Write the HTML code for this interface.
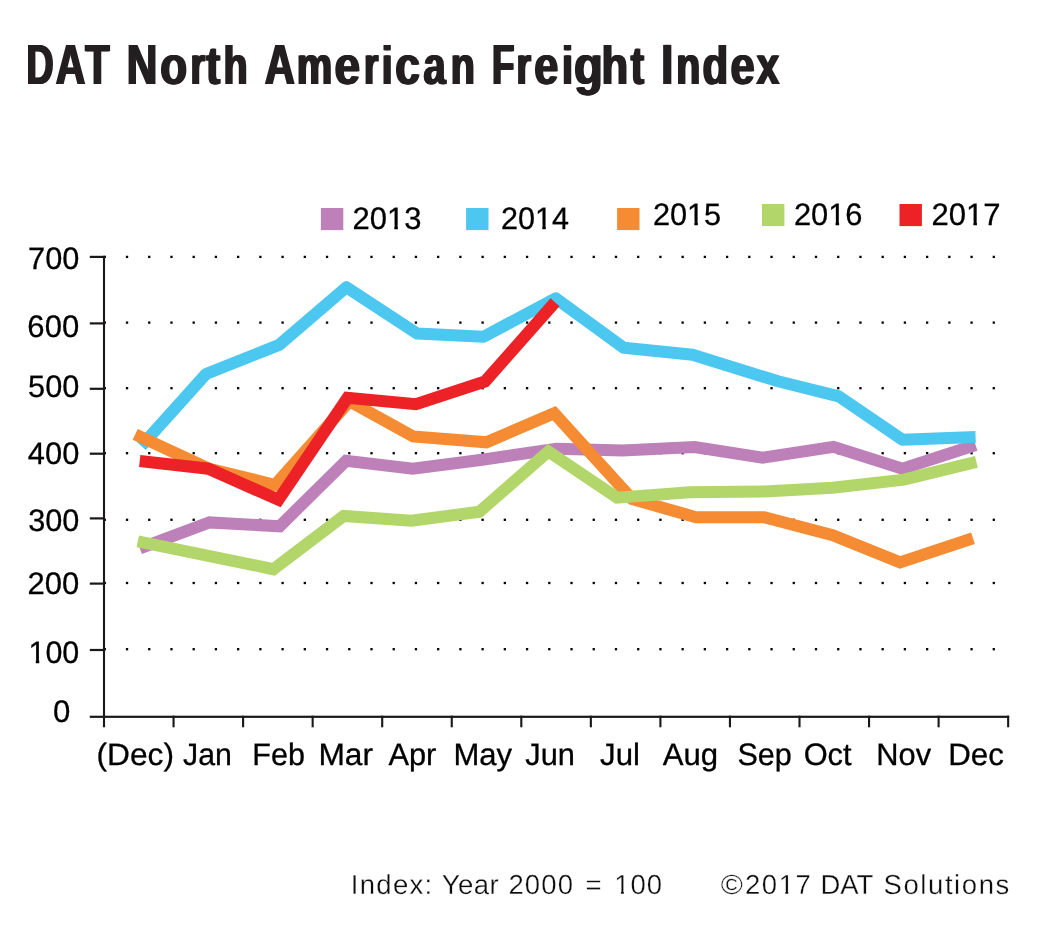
<!DOCTYPE html>
<html><head><meta charset="utf-8"><title>DAT North American Freight Index</title>
<style>
html,body{margin:0;padding:0;background:#fff;}
body{width:1052px;height:950px;overflow:hidden;font-family:"Liberation Sans",sans-serif;}
svg{display:block;position:absolute;left:0;top:0;will-change:transform;}
text{font-family:"Liberation Sans",sans-serif;text-rendering:geometricPrecision;}
.ax{font-size:31px;fill:#000;stroke:#000;stroke-width:0.3px;}
.axd{font-size:31px;fill:#000;stroke:#000;stroke-width:0.3px;}
.ft{font-size:27.5px;fill:#0d0d0d;}
.ttl{font-size:56.8px;font-weight:bold;fill:#231f20;}
.ttll{font-size:54px;font-weight:bold;fill:#231f20;}
</style></head><body>
<svg width="1052" height="950" viewBox="0 0 1052 950">
<rect width="1052" height="950" fill="#fff"/>
<defs><filter id="bold" x="-2%" y="-30%" width="104%" height="160%" color-interpolation-filters="sRGB"><feOffset in="SourceGraphic" dx="-0.95" result="a"/><feOffset in="SourceGraphic" dx="0.95" result="b"/><feMerge><feMergeNode in="a"/><feMergeNode in="SourceGraphic"/><feMergeNode in="b"/></feMerge></filter></defs>
<text class="ttl" y="83.80" filter="url(#bold)"><tspan x="26.60" textLength="27.07" lengthAdjust="spacingAndGlyphs">D</tspan><tspan x="55.75" textLength="29.57" lengthAdjust="spacingAndGlyphs">A</tspan><tspan x="85.36" textLength="24.30" lengthAdjust="spacingAndGlyphs">T</tspan> <tspan x="126.85" textLength="30.59" lengthAdjust="spacingAndGlyphs">N</tspan><tspan class="ttll" x="160.13" textLength="26.87" lengthAdjust="spacingAndGlyphs">o</tspan><tspan class="ttll" x="190.45" textLength="14.54" lengthAdjust="spacingAndGlyphs">r</tspan><tspan class="ttll" x="205.92" textLength="14.20" lengthAdjust="spacingAndGlyphs">t</tspan><tspan class="ttll" x="223.49" textLength="24.16" lengthAdjust="spacingAndGlyphs">h</tspan> <tspan x="264.73" textLength="30.11" lengthAdjust="spacingAndGlyphs">A</tspan><tspan class="ttll" x="296.85" textLength="35.53" lengthAdjust="spacingAndGlyphs">m</tspan><tspan class="ttll" x="334.62" textLength="25.58" lengthAdjust="spacingAndGlyphs">e</tspan><tspan class="ttll" x="364.04" textLength="14.39" lengthAdjust="spacingAndGlyphs">r</tspan><tspan class="ttll" x="381.65" textLength="10.85" lengthAdjust="spacingAndGlyphs">i</tspan><tspan class="ttll" x="395.35" textLength="24.65" lengthAdjust="spacingAndGlyphs">c</tspan><tspan class="ttll" x="423.50" textLength="22.14" lengthAdjust="spacingAndGlyphs">a</tspan><tspan class="ttll" x="450.72" textLength="24.15" lengthAdjust="spacingAndGlyphs">n</tspan> <tspan x="492.07" textLength="22.42" lengthAdjust="spacingAndGlyphs">F</tspan><tspan class="ttll" x="516.39" textLength="14.51" lengthAdjust="spacingAndGlyphs">r</tspan><tspan class="ttll" x="534.25" textLength="24.06" lengthAdjust="spacingAndGlyphs">e</tspan><tspan class="ttll" x="561.96" textLength="11.05" lengthAdjust="spacingAndGlyphs">i</tspan><tspan class="ttll" x="574.09" textLength="28.84" lengthAdjust="spacingAndGlyphs">g</tspan><tspan class="ttll" x="601.38" textLength="26.69" lengthAdjust="spacingAndGlyphs">h</tspan><tspan class="ttll" x="630.64" textLength="13.32" lengthAdjust="spacingAndGlyphs">t</tspan> <tspan x="661.18" textLength="11.99" lengthAdjust="spacingAndGlyphs">I</tspan><tspan class="ttll" x="676.22" textLength="24.10" lengthAdjust="spacingAndGlyphs">n</tspan><tspan class="ttll" x="702.58" textLength="25.64" lengthAdjust="spacingAndGlyphs">d</tspan><tspan class="ttll" x="730.54" textLength="24.13" lengthAdjust="spacingAndGlyphs">e</tspan><tspan class="ttll" x="756.43" textLength="22.87" lengthAdjust="spacingAndGlyphs">x</tspan></text>
<g fill="#000"><rect x="103.65" y="648.05" width="2.3" height="2.3"/><rect x="125.88" y="648.05" width="2.3" height="2.3"/><rect x="148.10" y="648.05" width="2.3" height="2.3"/><rect x="170.33" y="648.05" width="2.3" height="2.3"/><rect x="192.55" y="648.05" width="2.3" height="2.3"/><rect x="214.78" y="648.05" width="2.3" height="2.3"/><rect x="237.00" y="648.05" width="2.3" height="2.3"/><rect x="259.23" y="648.05" width="2.3" height="2.3"/><rect x="281.45" y="648.05" width="2.3" height="2.3"/><rect x="303.68" y="648.05" width="2.3" height="2.3"/><rect x="325.90" y="648.05" width="2.3" height="2.3"/><rect x="348.13" y="648.05" width="2.3" height="2.3"/><rect x="370.35" y="648.05" width="2.3" height="2.3"/><rect x="392.58" y="648.05" width="2.3" height="2.3"/><rect x="414.80" y="648.05" width="2.3" height="2.3"/><rect x="437.03" y="648.05" width="2.3" height="2.3"/><rect x="459.25" y="648.05" width="2.3" height="2.3"/><rect x="481.48" y="648.05" width="2.3" height="2.3"/><rect x="503.70" y="648.05" width="2.3" height="2.3"/><rect x="525.93" y="648.05" width="2.3" height="2.3"/><rect x="548.15" y="648.05" width="2.3" height="2.3"/><rect x="570.38" y="648.05" width="2.3" height="2.3"/><rect x="592.60" y="648.05" width="2.3" height="2.3"/><rect x="614.83" y="648.05" width="2.3" height="2.3"/><rect x="637.05" y="648.05" width="2.3" height="2.3"/><rect x="659.27" y="648.05" width="2.3" height="2.3"/><rect x="681.50" y="648.05" width="2.3" height="2.3"/><rect x="703.73" y="648.05" width="2.3" height="2.3"/><rect x="725.95" y="648.05" width="2.3" height="2.3"/><rect x="748.18" y="648.05" width="2.3" height="2.3"/><rect x="770.40" y="648.05" width="2.3" height="2.3"/><rect x="792.62" y="648.05" width="2.3" height="2.3"/><rect x="814.85" y="648.05" width="2.3" height="2.3"/><rect x="837.08" y="648.05" width="2.3" height="2.3"/><rect x="859.30" y="648.05" width="2.3" height="2.3"/><rect x="881.52" y="648.05" width="2.3" height="2.3"/><rect x="903.75" y="648.05" width="2.3" height="2.3"/><rect x="925.98" y="648.05" width="2.3" height="2.3"/><rect x="948.20" y="648.05" width="2.3" height="2.3"/><rect x="970.43" y="648.05" width="2.3" height="2.3"/><rect x="992.65" y="648.05" width="2.3" height="2.3"/><rect x="103.65" y="581.85" width="2.3" height="2.3"/><rect x="125.88" y="581.85" width="2.3" height="2.3"/><rect x="148.10" y="581.85" width="2.3" height="2.3"/><rect x="170.33" y="581.85" width="2.3" height="2.3"/><rect x="192.55" y="581.85" width="2.3" height="2.3"/><rect x="214.78" y="581.85" width="2.3" height="2.3"/><rect x="237.00" y="581.85" width="2.3" height="2.3"/><rect x="259.23" y="581.85" width="2.3" height="2.3"/><rect x="281.45" y="581.85" width="2.3" height="2.3"/><rect x="303.68" y="581.85" width="2.3" height="2.3"/><rect x="325.90" y="581.85" width="2.3" height="2.3"/><rect x="348.13" y="581.85" width="2.3" height="2.3"/><rect x="370.35" y="581.85" width="2.3" height="2.3"/><rect x="392.58" y="581.85" width="2.3" height="2.3"/><rect x="414.80" y="581.85" width="2.3" height="2.3"/><rect x="437.03" y="581.85" width="2.3" height="2.3"/><rect x="459.25" y="581.85" width="2.3" height="2.3"/><rect x="481.48" y="581.85" width="2.3" height="2.3"/><rect x="503.70" y="581.85" width="2.3" height="2.3"/><rect x="525.93" y="581.85" width="2.3" height="2.3"/><rect x="548.15" y="581.85" width="2.3" height="2.3"/><rect x="570.38" y="581.85" width="2.3" height="2.3"/><rect x="592.60" y="581.85" width="2.3" height="2.3"/><rect x="614.83" y="581.85" width="2.3" height="2.3"/><rect x="637.05" y="581.85" width="2.3" height="2.3"/><rect x="659.27" y="581.85" width="2.3" height="2.3"/><rect x="681.50" y="581.85" width="2.3" height="2.3"/><rect x="703.73" y="581.85" width="2.3" height="2.3"/><rect x="725.95" y="581.85" width="2.3" height="2.3"/><rect x="748.18" y="581.85" width="2.3" height="2.3"/><rect x="770.40" y="581.85" width="2.3" height="2.3"/><rect x="792.62" y="581.85" width="2.3" height="2.3"/><rect x="814.85" y="581.85" width="2.3" height="2.3"/><rect x="837.08" y="581.85" width="2.3" height="2.3"/><rect x="859.30" y="581.85" width="2.3" height="2.3"/><rect x="881.52" y="581.85" width="2.3" height="2.3"/><rect x="903.75" y="581.85" width="2.3" height="2.3"/><rect x="925.98" y="581.85" width="2.3" height="2.3"/><rect x="948.20" y="581.85" width="2.3" height="2.3"/><rect x="970.43" y="581.85" width="2.3" height="2.3"/><rect x="992.65" y="581.85" width="2.3" height="2.3"/><rect x="103.65" y="518.65" width="2.3" height="2.3"/><rect x="125.88" y="518.65" width="2.3" height="2.3"/><rect x="148.10" y="518.65" width="2.3" height="2.3"/><rect x="170.33" y="518.65" width="2.3" height="2.3"/><rect x="192.55" y="518.65" width="2.3" height="2.3"/><rect x="214.78" y="518.65" width="2.3" height="2.3"/><rect x="237.00" y="518.65" width="2.3" height="2.3"/><rect x="259.23" y="518.65" width="2.3" height="2.3"/><rect x="281.45" y="518.65" width="2.3" height="2.3"/><rect x="303.68" y="518.65" width="2.3" height="2.3"/><rect x="325.90" y="518.65" width="2.3" height="2.3"/><rect x="348.13" y="518.65" width="2.3" height="2.3"/><rect x="370.35" y="518.65" width="2.3" height="2.3"/><rect x="392.58" y="518.65" width="2.3" height="2.3"/><rect x="414.80" y="518.65" width="2.3" height="2.3"/><rect x="437.03" y="518.65" width="2.3" height="2.3"/><rect x="459.25" y="518.65" width="2.3" height="2.3"/><rect x="481.48" y="518.65" width="2.3" height="2.3"/><rect x="503.70" y="518.65" width="2.3" height="2.3"/><rect x="525.93" y="518.65" width="2.3" height="2.3"/><rect x="548.15" y="518.65" width="2.3" height="2.3"/><rect x="570.38" y="518.65" width="2.3" height="2.3"/><rect x="592.60" y="518.65" width="2.3" height="2.3"/><rect x="614.83" y="518.65" width="2.3" height="2.3"/><rect x="637.05" y="518.65" width="2.3" height="2.3"/><rect x="659.27" y="518.65" width="2.3" height="2.3"/><rect x="681.50" y="518.65" width="2.3" height="2.3"/><rect x="703.73" y="518.65" width="2.3" height="2.3"/><rect x="725.95" y="518.65" width="2.3" height="2.3"/><rect x="748.18" y="518.65" width="2.3" height="2.3"/><rect x="770.40" y="518.65" width="2.3" height="2.3"/><rect x="792.62" y="518.65" width="2.3" height="2.3"/><rect x="814.85" y="518.65" width="2.3" height="2.3"/><rect x="837.08" y="518.65" width="2.3" height="2.3"/><rect x="859.30" y="518.65" width="2.3" height="2.3"/><rect x="881.52" y="518.65" width="2.3" height="2.3"/><rect x="903.75" y="518.65" width="2.3" height="2.3"/><rect x="925.98" y="518.65" width="2.3" height="2.3"/><rect x="948.20" y="518.65" width="2.3" height="2.3"/><rect x="970.43" y="518.65" width="2.3" height="2.3"/><rect x="992.65" y="518.65" width="2.3" height="2.3"/><rect x="103.65" y="452.05" width="2.3" height="2.3"/><rect x="125.88" y="452.05" width="2.3" height="2.3"/><rect x="148.10" y="452.05" width="2.3" height="2.3"/><rect x="170.33" y="452.05" width="2.3" height="2.3"/><rect x="192.55" y="452.05" width="2.3" height="2.3"/><rect x="214.78" y="452.05" width="2.3" height="2.3"/><rect x="237.00" y="452.05" width="2.3" height="2.3"/><rect x="259.23" y="452.05" width="2.3" height="2.3"/><rect x="281.45" y="452.05" width="2.3" height="2.3"/><rect x="303.68" y="452.05" width="2.3" height="2.3"/><rect x="325.90" y="452.05" width="2.3" height="2.3"/><rect x="348.13" y="452.05" width="2.3" height="2.3"/><rect x="370.35" y="452.05" width="2.3" height="2.3"/><rect x="392.58" y="452.05" width="2.3" height="2.3"/><rect x="414.80" y="452.05" width="2.3" height="2.3"/><rect x="437.03" y="452.05" width="2.3" height="2.3"/><rect x="459.25" y="452.05" width="2.3" height="2.3"/><rect x="481.48" y="452.05" width="2.3" height="2.3"/><rect x="503.70" y="452.05" width="2.3" height="2.3"/><rect x="525.93" y="452.05" width="2.3" height="2.3"/><rect x="548.15" y="452.05" width="2.3" height="2.3"/><rect x="570.38" y="452.05" width="2.3" height="2.3"/><rect x="592.60" y="452.05" width="2.3" height="2.3"/><rect x="614.83" y="452.05" width="2.3" height="2.3"/><rect x="637.05" y="452.05" width="2.3" height="2.3"/><rect x="659.27" y="452.05" width="2.3" height="2.3"/><rect x="681.50" y="452.05" width="2.3" height="2.3"/><rect x="703.73" y="452.05" width="2.3" height="2.3"/><rect x="725.95" y="452.05" width="2.3" height="2.3"/><rect x="748.18" y="452.05" width="2.3" height="2.3"/><rect x="770.40" y="452.05" width="2.3" height="2.3"/><rect x="792.62" y="452.05" width="2.3" height="2.3"/><rect x="814.85" y="452.05" width="2.3" height="2.3"/><rect x="837.08" y="452.05" width="2.3" height="2.3"/><rect x="859.30" y="452.05" width="2.3" height="2.3"/><rect x="881.52" y="452.05" width="2.3" height="2.3"/><rect x="903.75" y="452.05" width="2.3" height="2.3"/><rect x="925.98" y="452.05" width="2.3" height="2.3"/><rect x="948.20" y="452.05" width="2.3" height="2.3"/><rect x="970.43" y="452.05" width="2.3" height="2.3"/><rect x="992.65" y="452.05" width="2.3" height="2.3"/><rect x="103.65" y="387.05" width="2.3" height="2.3"/><rect x="125.88" y="387.05" width="2.3" height="2.3"/><rect x="148.10" y="387.05" width="2.3" height="2.3"/><rect x="170.33" y="387.05" width="2.3" height="2.3"/><rect x="192.55" y="387.05" width="2.3" height="2.3"/><rect x="214.78" y="387.05" width="2.3" height="2.3"/><rect x="237.00" y="387.05" width="2.3" height="2.3"/><rect x="259.23" y="387.05" width="2.3" height="2.3"/><rect x="281.45" y="387.05" width="2.3" height="2.3"/><rect x="303.68" y="387.05" width="2.3" height="2.3"/><rect x="325.90" y="387.05" width="2.3" height="2.3"/><rect x="348.13" y="387.05" width="2.3" height="2.3"/><rect x="370.35" y="387.05" width="2.3" height="2.3"/><rect x="392.58" y="387.05" width="2.3" height="2.3"/><rect x="414.80" y="387.05" width="2.3" height="2.3"/><rect x="437.03" y="387.05" width="2.3" height="2.3"/><rect x="459.25" y="387.05" width="2.3" height="2.3"/><rect x="481.48" y="387.05" width="2.3" height="2.3"/><rect x="503.70" y="387.05" width="2.3" height="2.3"/><rect x="525.93" y="387.05" width="2.3" height="2.3"/><rect x="548.15" y="387.05" width="2.3" height="2.3"/><rect x="570.38" y="387.05" width="2.3" height="2.3"/><rect x="592.60" y="387.05" width="2.3" height="2.3"/><rect x="614.83" y="387.05" width="2.3" height="2.3"/><rect x="637.05" y="387.05" width="2.3" height="2.3"/><rect x="659.27" y="387.05" width="2.3" height="2.3"/><rect x="681.50" y="387.05" width="2.3" height="2.3"/><rect x="703.73" y="387.05" width="2.3" height="2.3"/><rect x="725.95" y="387.05" width="2.3" height="2.3"/><rect x="748.18" y="387.05" width="2.3" height="2.3"/><rect x="770.40" y="387.05" width="2.3" height="2.3"/><rect x="792.62" y="387.05" width="2.3" height="2.3"/><rect x="814.85" y="387.05" width="2.3" height="2.3"/><rect x="837.08" y="387.05" width="2.3" height="2.3"/><rect x="859.30" y="387.05" width="2.3" height="2.3"/><rect x="881.52" y="387.05" width="2.3" height="2.3"/><rect x="903.75" y="387.05" width="2.3" height="2.3"/><rect x="925.98" y="387.05" width="2.3" height="2.3"/><rect x="948.20" y="387.05" width="2.3" height="2.3"/><rect x="970.43" y="387.05" width="2.3" height="2.3"/><rect x="992.65" y="387.05" width="2.3" height="2.3"/><rect x="103.65" y="321.45" width="2.3" height="2.3"/><rect x="125.88" y="321.45" width="2.3" height="2.3"/><rect x="148.10" y="321.45" width="2.3" height="2.3"/><rect x="170.33" y="321.45" width="2.3" height="2.3"/><rect x="192.55" y="321.45" width="2.3" height="2.3"/><rect x="214.78" y="321.45" width="2.3" height="2.3"/><rect x="237.00" y="321.45" width="2.3" height="2.3"/><rect x="259.23" y="321.45" width="2.3" height="2.3"/><rect x="281.45" y="321.45" width="2.3" height="2.3"/><rect x="303.68" y="321.45" width="2.3" height="2.3"/><rect x="325.90" y="321.45" width="2.3" height="2.3"/><rect x="348.13" y="321.45" width="2.3" height="2.3"/><rect x="370.35" y="321.45" width="2.3" height="2.3"/><rect x="392.58" y="321.45" width="2.3" height="2.3"/><rect x="414.80" y="321.45" width="2.3" height="2.3"/><rect x="437.03" y="321.45" width="2.3" height="2.3"/><rect x="459.25" y="321.45" width="2.3" height="2.3"/><rect x="481.48" y="321.45" width="2.3" height="2.3"/><rect x="503.70" y="321.45" width="2.3" height="2.3"/><rect x="525.93" y="321.45" width="2.3" height="2.3"/><rect x="548.15" y="321.45" width="2.3" height="2.3"/><rect x="570.38" y="321.45" width="2.3" height="2.3"/><rect x="592.60" y="321.45" width="2.3" height="2.3"/><rect x="614.83" y="321.45" width="2.3" height="2.3"/><rect x="637.05" y="321.45" width="2.3" height="2.3"/><rect x="659.27" y="321.45" width="2.3" height="2.3"/><rect x="681.50" y="321.45" width="2.3" height="2.3"/><rect x="703.73" y="321.45" width="2.3" height="2.3"/><rect x="725.95" y="321.45" width="2.3" height="2.3"/><rect x="748.18" y="321.45" width="2.3" height="2.3"/><rect x="770.40" y="321.45" width="2.3" height="2.3"/><rect x="792.62" y="321.45" width="2.3" height="2.3"/><rect x="814.85" y="321.45" width="2.3" height="2.3"/><rect x="837.08" y="321.45" width="2.3" height="2.3"/><rect x="859.30" y="321.45" width="2.3" height="2.3"/><rect x="881.52" y="321.45" width="2.3" height="2.3"/><rect x="903.75" y="321.45" width="2.3" height="2.3"/><rect x="925.98" y="321.45" width="2.3" height="2.3"/><rect x="948.20" y="321.45" width="2.3" height="2.3"/><rect x="970.43" y="321.45" width="2.3" height="2.3"/><rect x="992.65" y="321.45" width="2.3" height="2.3"/><rect x="103.65" y="255.75" width="2.3" height="2.3"/><rect x="125.88" y="255.75" width="2.3" height="2.3"/><rect x="148.10" y="255.75" width="2.3" height="2.3"/><rect x="170.33" y="255.75" width="2.3" height="2.3"/><rect x="192.55" y="255.75" width="2.3" height="2.3"/><rect x="214.78" y="255.75" width="2.3" height="2.3"/><rect x="237.00" y="255.75" width="2.3" height="2.3"/><rect x="259.23" y="255.75" width="2.3" height="2.3"/><rect x="281.45" y="255.75" width="2.3" height="2.3"/><rect x="303.68" y="255.75" width="2.3" height="2.3"/><rect x="325.90" y="255.75" width="2.3" height="2.3"/><rect x="348.13" y="255.75" width="2.3" height="2.3"/><rect x="370.35" y="255.75" width="2.3" height="2.3"/><rect x="392.58" y="255.75" width="2.3" height="2.3"/><rect x="414.80" y="255.75" width="2.3" height="2.3"/><rect x="437.03" y="255.75" width="2.3" height="2.3"/><rect x="459.25" y="255.75" width="2.3" height="2.3"/><rect x="481.48" y="255.75" width="2.3" height="2.3"/><rect x="503.70" y="255.75" width="2.3" height="2.3"/><rect x="525.93" y="255.75" width="2.3" height="2.3"/><rect x="548.15" y="255.75" width="2.3" height="2.3"/><rect x="570.38" y="255.75" width="2.3" height="2.3"/><rect x="592.60" y="255.75" width="2.3" height="2.3"/><rect x="614.83" y="255.75" width="2.3" height="2.3"/><rect x="637.05" y="255.75" width="2.3" height="2.3"/><rect x="659.27" y="255.75" width="2.3" height="2.3"/><rect x="681.50" y="255.75" width="2.3" height="2.3"/><rect x="703.73" y="255.75" width="2.3" height="2.3"/><rect x="725.95" y="255.75" width="2.3" height="2.3"/><rect x="748.18" y="255.75" width="2.3" height="2.3"/><rect x="770.40" y="255.75" width="2.3" height="2.3"/><rect x="792.62" y="255.75" width="2.3" height="2.3"/><rect x="814.85" y="255.75" width="2.3" height="2.3"/><rect x="837.08" y="255.75" width="2.3" height="2.3"/><rect x="859.30" y="255.75" width="2.3" height="2.3"/><rect x="881.52" y="255.75" width="2.3" height="2.3"/><rect x="903.75" y="255.75" width="2.3" height="2.3"/><rect x="925.98" y="255.75" width="2.3" height="2.3"/><rect x="948.20" y="255.75" width="2.3" height="2.3"/><rect x="970.43" y="255.75" width="2.3" height="2.3"/><rect x="992.65" y="255.75" width="2.3" height="2.3"/></g>
<polyline points="139.8,548.4 209.5,522.4 279.7,526.3 346.1,460.7 412.8,468.7 482.2,459.7 556.5,448.8 622.4,450.6 694.7,447.1 762.5,457.7 833.5,446.9 902.5,468.8 975.6,445.0" fill="none" stroke="#bd80b8" stroke-width="12" stroke-linejoin="miter" stroke-miterlimit="10" stroke-linecap="butt"/>
<polyline points="141.3,446.0 206.0,374.0 279.2,344.9 346.4,287.2 417.0,333.6 483.6,336.7 555.8,298.3 623.8,347.8 692.6,354.7 778.0,381.3 838.8,396.4 902.5,439.8 975.6,436.9" fill="none" stroke="#4bc7f0" stroke-width="12" stroke-linejoin="round" stroke-miterlimit="10" stroke-linecap="butt"/>
<polyline points="135.2,434.4 208.4,468.5 275.0,485.0 349.5,401.2 413.1,436.4 486.4,442.3 554.2,413.3 632.0,499.0 696.0,517.2 764.1,517.2 832.7,535.3 900.0,562.4 973.0,538.2" fill="none" stroke="#f58b33" stroke-width="12" stroke-linejoin="miter" stroke-miterlimit="10" stroke-linecap="butt"/>
<polyline points="137.8,541.3 273.3,569.2 343.7,515.9 411.4,520.8 479.4,511.7 548.4,451.5 617.1,497.7 690.0,492.2 765.0,491.5 832.7,487.7 904.0,479.7 976.4,461.9" fill="none" stroke="#b3d66b" stroke-width="12" stroke-linejoin="miter" stroke-miterlimit="10" stroke-linecap="butt"/>
<polyline points="139.7,461.0 208.4,468.7 278.5,499.8 347.5,397.8 415.9,404.1 485.0,381.5 555.0,302.3" fill="none" stroke="#ec2227" stroke-width="12" stroke-linejoin="miter" stroke-miterlimit="10" stroke-linecap="butt"/>
<g fill="#1a1718"><rect x="102.95" y="255.8" width="2.1" height="462.2"/><rect x="89.8" y="715.70" width="919.35" height="2.2"/><rect x="89.8" y="648.90" width="14" height="2.2"/><rect x="89.8" y="582.50" width="14" height="2.2"/><rect x="89.8" y="517.30" width="14" height="2.2"/><rect x="89.8" y="452.60" width="14" height="2.2"/><rect x="89.8" y="387.70" width="14" height="2.2"/><rect x="89.8" y="322.30" width="14" height="2.2"/><rect x="89.8" y="255.80" width="14" height="2.2"/><rect x="102.95" y="715.70" width="2.1" height="11.6"/><rect x="172.50" y="715.70" width="2.1" height="11.6"/><rect x="242.05" y="715.70" width="2.1" height="11.6"/><rect x="311.60" y="715.70" width="2.1" height="11.6"/><rect x="381.15" y="715.70" width="2.1" height="11.6"/><rect x="450.70" y="715.70" width="2.1" height="11.6"/><rect x="520.25" y="715.70" width="2.1" height="11.6"/><rect x="589.80" y="715.70" width="2.1" height="11.6"/><rect x="659.35" y="715.70" width="2.1" height="11.6"/><rect x="728.90" y="715.70" width="2.1" height="11.6"/><rect x="798.45" y="715.70" width="2.1" height="11.6"/><rect x="868.00" y="715.70" width="2.1" height="11.6"/><rect x="937.55" y="715.70" width="2.1" height="11.6"/><rect x="1007.10" y="715.70" width="2.1" height="11.6"/></g>
<text class="axd" x="28.05" y="268.51" textLength="51.25" lengthAdjust="spacingAndGlyphs">700</text>
<text class="axd" x="27.38" y="337.29" textLength="51.79" lengthAdjust="spacingAndGlyphs">600</text>
<text class="axd" x="28.11" y="397.05" textLength="51.19" lengthAdjust="spacingAndGlyphs">500</text>
<text class="axd" x="27.86" y="463.77" textLength="51.42" lengthAdjust="spacingAndGlyphs">400</text>
<text class="axd" x="28.16" y="531.02" textLength="51.14" lengthAdjust="spacingAndGlyphs">300</text>
<text class="axd" x="27.45" y="594.00" textLength="51.71" lengthAdjust="spacingAndGlyphs">200</text>
<text class="axd" x="28.53" y="663.18" textLength="50.79" lengthAdjust="spacingAndGlyphs">100</text>
<text class="axd" x="53.06" y="722.38" textLength="17.31" lengthAdjust="spacingAndGlyphs">0</text>
<text class="ax" x="96.48" y="765.30" textLength="77.47" lengthAdjust="spacingAndGlyphs">(Dec)</text>
<text class="ax" x="183.07" y="765.30" textLength="48.79" lengthAdjust="spacingAndGlyphs">Jan</text>
<text class="ax" x="252.32" y="765.30" textLength="52.53" lengthAdjust="spacingAndGlyphs">Feb</text>
<text class="ax" x="318.46" y="765.30" textLength="54.62" lengthAdjust="spacingAndGlyphs">Mar</text>
<text class="ax" x="388.40" y="765.30" textLength="47.94" lengthAdjust="spacingAndGlyphs">Apr</text>
<text class="ax" x="453.43" y="765.30" textLength="58.72" lengthAdjust="spacingAndGlyphs">May</text>
<text class="ax" x="525.28" y="765.30" textLength="49.66" lengthAdjust="spacingAndGlyphs">Jun</text>
<text class="ax" x="600.05" y="765.30" textLength="39.88" lengthAdjust="spacingAndGlyphs">Jul</text>
<text class="ax" x="662.80" y="765.30" textLength="55.38" lengthAdjust="spacingAndGlyphs">Aug</text>
<text class="ax" x="737.45" y="765.30" textLength="54.36" lengthAdjust="spacingAndGlyphs">Sep</text>
<text class="ax" x="803.65" y="765.30" textLength="47.92" lengthAdjust="spacingAndGlyphs">Oct</text>
<text class="ax" x="876.32" y="765.30" textLength="54.78" lengthAdjust="spacingAndGlyphs">Nov</text>
<text class="ax" x="948.23" y="765.30" textLength="55.67" lengthAdjust="spacingAndGlyphs">Dec</text>
<text class="axd" x="352.48" y="229.30" textLength="68.91" lengthAdjust="spacingAndGlyphs">2013</text>
<text class="axd" x="501.09" y="229.20" textLength="67.88" lengthAdjust="spacingAndGlyphs">2014</text>
<text class="axd" x="652.88" y="225.20" textLength="68.31" lengthAdjust="spacingAndGlyphs">2015</text>
<text class="axd" x="793.95" y="225.20" textLength="68.58" lengthAdjust="spacingAndGlyphs">2016</text>
<text class="axd" x="931.48" y="224.58" textLength="69.04" lengthAdjust="spacingAndGlyphs">2017</text>
<rect x="320.9" y="208.0" width="22.4" height="22.1" fill="#bd80b8"/>
<rect x="466.1" y="208.0" width="22.4" height="22.1" fill="#4bc7f0"/>
<rect x="617.1" y="208.0" width="22.4" height="22.1" fill="#f58b33"/>
<rect x="762.0" y="204.0" width="22.4" height="22.1" fill="#b3d66b"/>
<rect x="899.5" y="204.0" width="22.4" height="22.1" fill="#ec2227"/>
<text class="ft" y="893.60" stroke="#fff" stroke-width="0.3"><tspan x="350.82" textLength="81.34" lengthAdjust="spacing">Index:</tspan> <tspan x="441.69" textLength="56.90" lengthAdjust="spacing">Year</tspan> <tspan x="508.40" textLength="64.58" lengthAdjust="spacing">2000</tspan> <tspan x="585.44" textLength="16.06" lengthAdjust="spacingAndGlyphs">=</tspan> <tspan x="614.25" textLength="47.82" lengthAdjust="spacing">100</tspan></text>
<text class="ft" y="893.60" stroke="#fff" stroke-width="0.3"><tspan x="720.74" textLength="22.15" lengthAdjust="spacingAndGlyphs">©</tspan><tspan x="744.96" textLength="65.81" lengthAdjust="spacing">2017</tspan> <tspan x="820.53" textLength="52.28" lengthAdjust="spacing">DAT</tspan> <tspan x="883.57" textLength="125.73" lengthAdjust="spacing">Solutions</tspan></text>
<g id="onefix" fill="#fff"><rect x="30.05" y="659.38" width="5.74" height="5.32"/><rect x="39.27" y="659.38" width="5.50" height="5.32"/><rect x="388.48" y="225.38" width="5.83" height="5.32"/><rect x="397.85" y="225.38" width="5.59" height="5.32"/><rect x="536.54" y="225.38" width="5.75" height="5.32"/><rect x="545.78" y="225.38" width="5.51" height="5.32"/><rect x="688.56" y="221.38" width="5.78" height="5.32"/><rect x="697.85" y="221.38" width="5.54" height="5.32"/><rect x="829.77" y="221.38" width="5.80" height="5.32"/><rect x="839.10" y="221.38" width="5.56" height="5.32"/><rect x="967.55" y="221.38" width="5.84" height="5.32"/><rect x="976.93" y="221.38" width="5.60" height="5.32"/><rect x="615.54" y="890.65" width="5.37" height="5.05"/><rect x="623.85" y="890.65" width="5.16" height="5.05"/><rect x="779.93" y="890.65" width="5.37" height="5.05"/><rect x="788.23" y="890.65" width="5.16" height="5.05"/></g>
</svg></body></html>
